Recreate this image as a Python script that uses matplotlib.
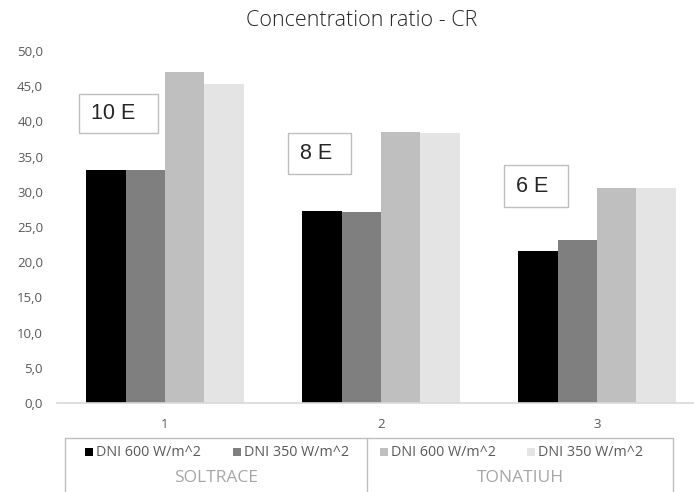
import matplotlib.pyplot as plt
import matplotlib.patches as mpatches
import numpy as np

# ---------------------------------------------------------------------------
# Data
# ---------------------------------------------------------------------------
categories = ["1", "2", "3"]
soltrace_600 = [33.1, 27.3, 21.6]
soltrace_350 = [33.1, 27.1, 23.2]
tonatiuh_600 = [47.0, 38.5, 30.6]
tonatiuh_350 = [45.3, 38.3, 30.6]
series_labels = ["DNI 600 W/m^2", "DNI 350 W/m^2", "DNI 600 W/m^2", "DNI 350 W/m^2"]
group_names = ["SOLTRACE", "TONATIUH"]
box_labels = ["10 E", "8 E", "6 E"]
y_ticks = [0, 5, 10, 15, 20, 25, 30, 35, 40, 45, 50]

COLORS = ["#000000", "#7f7f7f", "#bfbfbf", "#e4e4e4"]
TEXT_GREY = "#595959"
LINE_GREY = "#d9d9d9"

W, H = 694, 492
fig = plt.figure(figsize=(W / 100, H / 100), dpi=100, facecolor="white")

# main bar axes, placed in pixel terms
left, right, top, bottom = 57, 694, 51, 403
ax = fig.add_axes([left / W, 1 - bottom / H, (right - left) / W, (bottom - top) / H])

series = [soltrace_600, soltrace_350, tonatiuh_600, tonatiuh_350]
x = np.arange(len(categories))
bw = 0.182
for i, (vals, col) in enumerate(zip(series, COLORS)):
    ax.bar(x + (i - 1.5) * bw, vals, width=bw, color=col, edgecolor="none", zorder=2)

ax.set_xlim(-0.5, -0.5 + (right - left) / 216)
ax.set_ylim(0, 50)
ax.set_yticks(y_ticks)
ax.set_yticklabels([f"{v:.1f}".replace(".", ",") for v in y_ticks],
                   fontsize=9.5, color=TEXT_GREY, family="Open Sans")
ax.set_xticks(x)
ax.set_xticklabels(categories, fontsize=9.5, color=TEXT_GREY, family="Open Sans")
ax.tick_params(axis="both", length=0)
ax.tick_params(axis="x", pad=11)
ax.tick_params(axis="y", pad=10)
for s in ["top", "right", "left"]:
    ax.spines[s].set_visible(False)
ax.spines["bottom"].set_color(LINE_GREY)
ax.spines["bottom"].set_linewidth(1.2)
ax.patch.set_alpha(0)

fig.text(362 / W, 1 - 21 / H, "Concentration ratio - CR", ha="center", va="center",
         fontsize=15.5, color="#262626", family="Open Sans", fontweight="light")

# overlay in pixel coordinates for text boxes and the legend table
ov = fig.add_axes([0, 0, 1, 1])
ov.set_xlim(0, W)
ov.set_ylim(H, 0)
ov.axis("off")
ov.patch.set_alpha(0)

# element-count boxes
boxes = [(79, 94, 79, 39), (288, 133, 63, 41), (504, 165, 64, 42)]
for (bx, by, bwid, bh), lab in zip(boxes, box_labels):
    ov.add_patch(mpatches.Rectangle((bx, by), bwid, bh, facecolor="white",
                                    edgecolor="#bfbfbf", lw=1.0, zorder=3))
    ov.text(bx + 12, by + bh / 2, lab, ha="left", va="center", fontsize=15.5,
            color="#262626", family="Liberation Sans", zorder=4)

# legend table
ov.plot([65, 65, 673, 673], [H + 5, 438, 438, H + 5], color="#bfbfbf", lw=1.0)
ov.plot([367, 367], [438, H + 5], color="#bfbfbf", lw=1.0)
marker_x = [89, 237, 384, 531]
for mx, col, lab in zip(marker_x, COLORS, series_labels):
    ov.add_patch(mpatches.Rectangle((mx - 4, 448), 8, 8, facecolor=col,
                                    edgecolor="none"))
    ov.text(mx + 7, 452, lab, ha="left", va="center", fontsize=10.3,
            color=TEXT_GREY, family="Open Sans")
ov.text(216, 478, group_names[0], ha="center", va="center", fontsize=12.5,
        color="#a6a6a6", family="Open Sans")
ov.text(520, 478, group_names[1], ha="center", va="center", fontsize=12.5,
        color="#a6a6a6", family="Open Sans")

fig.savefig("out.png", dpi=100, facecolor="white")
